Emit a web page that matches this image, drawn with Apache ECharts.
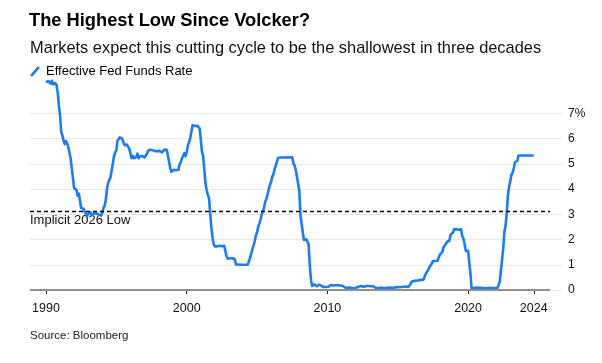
<!DOCTYPE html>
<html><head><meta charset="utf-8">
<script src="https://cdn.jsdelivr.net/npm/echarts@6/dist/echarts.min.js"></script>
<style>html,body{margin:0;padding:0;background:#fff}#c{width:602px;height:363px}</style>
</head><body><div id="c"></div>
<script>
// Monthly effective fed funds rate, starting January 1990
const startYear = 1990;
const rates1990s = [
  8.23, 8.24, 8.28, 8.26, 8.18, 8.29, 8.15, 8.13, 8.20, 8.11, 7.81, 7.31,
  6.91, 6.25, 6.12, 5.91, 5.78, 5.90, 5.82, 5.66, 5.45, 5.21, 4.81, 4.43,
  4.03, 4.06, 3.98, 3.73, 3.82, 3.76, 3.25, 3.30, 3.22, 3.10, 3.09, 2.92,
  3.02, 3.03, 3.07, 2.96, 3.00, 3.04, 3.06, 3.03, 3.09, 2.99, 3.02, 2.96,
  3.05, 3.25, 3.34, 3.56, 4.01, 4.25, 4.26, 4.47, 4.73, 4.76, 5.29, 5.45,
  5.53, 5.92, 5.98, 6.05, 6.01, 6.00, 5.85, 5.74, 5.80, 5.76, 5.80, 5.60,
  5.56, 5.22, 5.31, 5.22, 5.24, 5.27, 5.40, 5.22, 5.30, 5.24, 5.31, 5.29,
  5.25, 5.19, 5.39, 5.51, 5.50, 5.56, 5.52, 5.54, 5.54, 5.50, 5.52, 5.50,
  5.56, 5.51, 5.49, 5.45, 5.49, 5.56, 5.54, 5.55, 5.51, 5.07, 4.83, 4.68,
  4.63, 4.76, 4.81, 4.74, 4.74, 4.76, 4.99, 5.07, 5.22, 5.20, 5.42, 5.30
];
const rates2000s = [
  5.45, 5.73, 5.85, 6.02, 6.27, 6.53, 6.54, 6.50, 6.52, 6.51, 6.51, 6.40,
  5.98, 5.49, 5.31, 4.80, 4.21, 3.97, 3.77, 3.65, 3.07, 2.49, 2.09, 1.82,
  1.73, 1.74, 1.73, 1.75, 1.75, 1.75, 1.73, 1.74, 1.75, 1.75, 1.34, 1.24,
  1.24, 1.26, 1.25, 1.26, 1.26, 1.22, 1.01, 1.03, 1.01, 1.01, 1.00, 0.98,
  1.00, 1.01, 1.00, 1.00, 1.00, 1.03, 1.26, 1.43, 1.61, 1.76, 1.93, 2.16,
  2.28, 2.50, 2.63, 2.79, 3.00, 3.04, 3.26, 3.50, 3.62, 3.78, 4.00, 4.16,
  4.29, 4.49, 4.59, 4.79, 4.94, 4.99, 5.24, 5.25, 5.25, 5.25, 5.25, 5.24,
  5.25, 5.26, 5.26, 5.25, 5.25, 5.25, 5.26, 5.02, 4.94, 4.76, 4.49, 4.24,
  3.94, 2.98, 2.61, 2.28, 1.98, 2.00, 2.01, 2.00, 1.81, 0.97, 0.39, 0.16,
  0.15, 0.22, 0.18, 0.15, 0.18, 0.21, 0.16, 0.16, 0.15, 0.12, 0.12, 0.12
];
const rates2010s = [
  0.11, 0.13, 0.16, 0.20, 0.20, 0.18, 0.18, 0.19, 0.19, 0.19, 0.19, 0.18,
  0.17, 0.16, 0.14, 0.10, 0.09, 0.09, 0.07, 0.10, 0.08, 0.07, 0.08, 0.07,
  0.08, 0.10, 0.13, 0.14, 0.16, 0.16, 0.16, 0.13, 0.14, 0.16, 0.16, 0.16,
  0.14, 0.15, 0.14, 0.15, 0.11, 0.09, 0.09, 0.08, 0.08, 0.09, 0.08, 0.09,
  0.07, 0.07, 0.08, 0.09, 0.09, 0.10, 0.09, 0.09, 0.09, 0.09, 0.09, 0.12,
  0.11, 0.11, 0.11, 0.12, 0.12, 0.13, 0.13, 0.14, 0.14, 0.12, 0.12, 0.24,
  0.34, 0.38, 0.36, 0.37, 0.37, 0.38, 0.39, 0.40, 0.40, 0.40, 0.41, 0.54,
  0.65, 0.66, 0.79, 0.90, 0.91, 1.04, 1.15, 1.16, 1.15, 1.15, 1.16, 1.30,
  1.41, 1.42, 1.51, 1.69, 1.70, 1.82, 1.91, 1.91, 1.95, 2.19, 2.20, 2.27,
  2.40, 2.40, 2.41, 2.42, 2.39, 2.38, 2.40, 2.13, 2.04, 1.83, 1.55, 1.55
];
const rates2020s = [
  1.55, 1.58, 0.65, 0.05, 0.05, 0.08, 0.09, 0.10, 0.09, 0.09, 0.09, 0.09,
  0.09, 0.08, 0.07, 0.07, 0.06, 0.08, 0.10, 0.09, 0.08, 0.08, 0.08, 0.08,
  0.08, 0.08, 0.20, 0.33, 0.77, 1.21, 1.68, 2.33, 2.56, 3.08, 3.78, 4.10,
  4.33, 4.57, 4.65, 4.83, 5.06, 5.08, 5.12, 5.33, 5.33, 5.33, 5.33, 5.33,
  5.33, 5.33, 5.33, 5.33, 5.33, 5.33, 5.33, 5.33, 5.33
];
const tickYears = [1990, 2000, 2010, 2020];
const lastTickLabel = '2024';
const implicitLow = 3.13;
const seriesName = 'Effective Fed Funds Rate';

const rates = [].concat(rates1990s, rates2000s, rates2010s, rates2020s);
const points = rates.map((v, i) => [startYear + i / 12, v]);
const lastX = points[points.length - 1][0];
const xTicks = tickYears.concat([lastX]);
const xMin = 1988.863, xMax = 2026.674, xLineEnd = 2025.82;

const FONT = '"Liberation Sans", Arial, Helvetica, sans-serif';
const BLUE = '#1b7cf5';
const chart = echarts.init(document.getElementById('c'), null, {renderer: 'canvas'});
chart.setOption({
  animation: false,
  backgroundColor: '#fff',
  textStyle: {fontFamily: FONT},
  title: [
    {text: 'The Highest Low Since Volcker?', left: 29, top: 12, padding: 0,
     textStyle: {fontFamily: FONT, fontSize: 18.3, fontWeight: 'bold', color: '#000'}},
    {text: 'Markets expect this cutting cycle to be the shallowest in three decades', left: 30, top: 40.5, padding: 0,
     textStyle: {fontFamily: FONT, fontSize: 16.4, fontWeight: 'normal', color: '#111'}},
    {text: 'Source: Bloomberg', left: 30, top: 330, padding: 0,
     textStyle: {fontFamily: FONT, fontSize: 11.5, fontWeight: 'normal', color: '#222'}}
  ],
  legend: {
    left: 30, top: 65, padding: 0, itemWidth: 10, itemHeight: 11,
    icon: 'path://M0,9 L7.8,0 L10,1.6 L2.2,10.6 Z',
    textStyle: {fontFamily: FONT, fontSize: 13, color: '#000', padding: [0, 0, 0, 1]},
    data: [{name: seriesName, itemStyle: {color: BLUE}}],
    selectedMode: false
  },
  grid: {left: 30, right: 40, top: 113.3, bottom: 73, containLabel: false},
  xAxis: {
    type: 'value', min: xMin, max: xMax,
    axisLine: {show: false},
    splitLine: {show: false},
    axisTick: {show: true, customValues: xTicks, length: 4, inside: false,
               lineStyle: {color: '#222', width: 1}},
    axisLabel: {show: true, customValues: xTicks, margin: 12, fontSize: 12.5, color: '#111',
                fontFamily: FONT,
                formatter: v => (Math.abs(v - lastX) < 1e-6 ? lastTickLabel : String(Math.round(v)))}
  },
  yAxis: {
    type: 'value', position: 'right', min: 0, max: 7, interval: 1,
    axisLine: {show: false}, axisTick: {show: false},
    splitLine: {show: true, lineStyle: {color: '#e9e9e9', width: 1}},
    axisLabel: {margin: 6, fontSize: 12, color: '#111', fontFamily: FONT,
                formatter: v => (v === 7 ? '7%' : String(v))}
  },
  series: [
    {
      name: 'refs', type: 'line', data: [], z: 1, silent: true,
      markLine: {
        silent: true, symbol: ['none', 'none'], animation: false,
        label: {show: false},
        data: [
          [{coord: [xMin, 0], lineStyle: {color: '#8e8e8e', width: 2, type: 'solid'}}, {coord: [xLineEnd, 0]}],
          [{coord: [xMin, implicitLow], lineStyle: {color: '#000', width: 1.3, type: [4, 3]}}, {coord: [xLineEnd, implicitLow]}]
        ]
      }
    },
    {
      name: seriesName, type: 'line', data: points, z: 3,
      showSymbol: false, symbol: 'none', clip: false, smooth: false,
      lineStyle: {color: BLUE, width: 2.6, join: 'round'},
      itemStyle: {color: BLUE}
    }
  ],
  graphic: [
    {type: 'text', left: 30, top: 213.5, silent: true,
     style: {text: 'Implicit 2026 Low', fontFamily: FONT, fontSize: 13, fill: '#111'}}
  ]
});
</script></body></html>
